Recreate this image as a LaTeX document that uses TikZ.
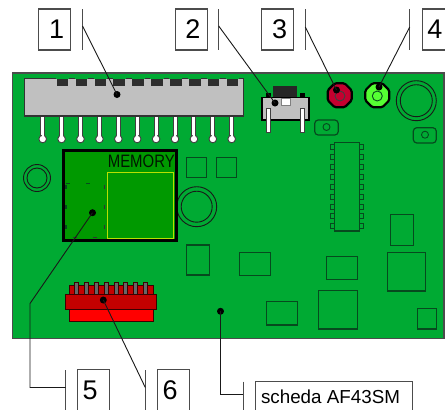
\documentclass[tikz,border=0pt]{standalone}
\usepackage{fontspec}
\usepackage{graphicx}
\usetikzlibrary{shapes.geometric}
\setmainfont{Liberation Sans}
\definecolor{board}{HTML}{00AA33}
\definecolor{memgreen}{HTML}{009900}
\definecolor{partline}{HTML}{064A1E}
\definecolor{grayp}{HTML}{C0C0C0}
\definecolor{ledred}{HTML}{C4002F}
\definecolor{ledgreen}{HTML}{55FF33}
\definecolor{redA}{HTML}{C40000}
\definecolor{redB}{HTML}{FF0000}
\definecolor{yel}{HTML}{B8E000}
\tikzset{
  part/.style={draw=partline,line width=1.2pt},
  thinpart/.style={draw=black!90,line width=.9pt},
  numbox/.style={draw=black!70,line width=1.1pt,fill=white,minimum width=32pt,minimum height=41pt,inner sep=0pt,font=\fontsize{27}{27}\selectfont},
  namebox/.style={draw=black!70,line width=1.1pt,fill=white,minimum width=156.6pt,minimum height=31pt,inner sep=0pt,font=\fontsize{18.8}{19}\selectfont},
  bar/.style={draw=black!70,line width=1.1pt},
  leader/.style={draw=black!90,line width=.9pt},
  dotn/.style={circle,fill=black,minimum size=7pt,inner sep=0pt},
  pinw/.style={fill=white,draw=black!75,line width=.9pt},
  ledshape/.style={regular polygon,regular polygon sides=8,draw=black,line width=2.2pt,minimum size=26pt,inner sep=0pt,rounded corners=1.5pt},
}
\begin{document}
\begin{tikzpicture}[x=1pt,y=-1pt]
\useasboundingbox (0,0) rectangle (445,410);
\clip (0,0) rectangle (445,410);
% board
\draw[fill=board,draw=black!70,line width=1.1pt] (12.7,73) rectangle (444,338.6);

% top connector
\foreach \i in {0,...,10}{
  \pgfmathsetmacro\px{42.7+18.9*\i}
  \draw[pinw] (\px-2,116) rectangle (\px+2,137);
  \draw[pinw] (\px,139) circle (3.8);
  \fill[white] (\px-1.2,130) rectangle (\px+1.2,139);
}
\draw[fill=grayp,draw=black!80,line width=1.1pt] (24.3,78.5) rectangle (243.3,116);
\foreach \i in {0,...,9}{
  \pgfmathsetmacro\tx{56.7+18.9*\i}
  \fill[board] (\tx-.8,74) rectangle (\tx+12.3,78.6);
  \fill[black!82] (\tx,78.6) rectangle (\tx+11.5,86.2);
  \fill[grayp] (\tx-1,78.6) -- (\tx,78.6) -- (\tx,84) -- (\tx-1,84) -- cycle;
}

% switch
\fill[black!85] (273.3,85.7) rectangle (297.3,97);
\fill[black] (266,93.3) rectangle (270.7,98);
\fill[black] (300,93.3) rectangle (305,98);
\draw[fill=grayp,draw=black,line width=1.8pt] (262,97.5) rectangle (309,120);
\draw[black!50,line width=.6pt,fill=white] (281,98.3) rectangle (290,105.7);
\draw[pinw] (266.3,108.3) rectangle (270.7,132.3);
\draw[pinw] (300.3,108.3) rectangle (304.7,132.3);

% LEDs
\node[ledshape,fill=ledred] (ledr) at (339.7,95.3) {};
\draw[draw=black!75,line width=.9pt] (340,96) circle (5);
\node[ledshape,fill=ledgreen] (ledg) at (377.3,95.3) {};
\draw[draw=partline,line width=.9pt] (377.3,96) circle (5);

% double circles
\draw[thinpart] (37,178) circle (13.5) (37,178) circle (10);
\draw[thinpart] (196.7,206.7) circle (20) (196.7,206.7) circle (15.5);
\draw[thinpart] (416.3,100.7) circle (20) (416.3,100.7) circle (16);

% pads
\draw[part,rounded corners=3.5pt] (314.7,120) rectangle (338.3,135);
\draw[part,line width=.9pt] (326.5,127) circle (3.5);
\draw[part,rounded corners=3.5pt] (413.3,127.7) rectangle (436.3,143);
\draw[part,line width=.9pt] (425,134.7) circle (3.5);

% IC
\draw[part] (334.7,142.7) rectangle (359.3,231);
\foreach \i in {0,...,8}{
  \pgfmathsetmacro\py{147+9.92*\i}
  \draw[part,line width=1pt] (330.7,\py-2.5) rectangle (334.7,\py+2.5);
  \draw[part,line width=1pt] (359.3,\py-2.5) rectangle (363.3,\py+2.5);
}

% small parts
\draw[part] (186.7,157.3) rectangle (206.7,177.3);
\draw[part] (216.7,157.3) rectangle (236.7,177.3);
\draw[part] (186.7,245) rectangle (209.3,275);
\draw[part] (239.3,252.3) rectangle (270.3,275.7);
\draw[part] (266.3,301.7) rectangle (297.3,325);
\draw[part] (318.3,290.3) rectangle (357.3,329);
\draw[part] (326.3,256.3) rectangle (357.3,279.3);
\draw[part] (390.3,214.7) rectangle (413.3,245.3);
\draw[part] (387.3,252.3) rectangle (425.7,291);
\draw[part] (417.3,308.7) rectangle (436.7,329);

% memory
\draw[fill=memgreen,draw=black,line width=3pt] (63.3,150.5) rectangle (176,240.5);
\draw[draw=yel,line width=1pt] (107.3,172.7) rectangle (173.3,238.5);
\node[inner sep=0pt,text=black!85!memgreen,font=\fontsize{18}{18}\selectfont] (mem) at (141.3,161.5) {\scalebox{0.83}[1]{MEMORY}};
\foreach \y in {186.7,206.7,226.7}{
  \fill[partline] (64.6,\y-2) rectangle (67.4,\y+2);
  \fill[black!80] (104.2,\y-2) rectangle (105.2,\y+2);
}
\fill[partline] (66,183.2) rectangle (70,184.2);
\fill[partline] (85.5,183.2) rectangle (90,184.2);
\fill[black!80] (73,236.8) rectangle (77,237.8);
\fill[black!80] (93,236.8) rectangle (97,237.8);

% red connector
\fill[redA] (69,285.7) rectangle (153.3,294);
\draw[black!70!redA,line width=.9pt] (69,294) -- (69,285.7) -- (153.3,285.7) -- (153.3,294);
\foreach \x in {76.7,86.7,96.7,106.7,116,125.7,135.7,145.7}{
  \draw[fill=black!60,draw=black!70!redA,line width=.6pt] (\x-2,282.3) rectangle (\x+2,294);
}
\draw[fill=redB,draw=black!70!redA,line width=.9pt] (69,309.3) rectangle (153.3,321.7);
\draw[fill=redA,draw=black!70!redA,line width=.9pt] (65.7,294) rectangle (156.7,309.3);

% labels
\node[numbox] (n1) at (54.7,29.5) {\hspace*{4pt}\raisebox{.8pt}{1}};
\node[numbox] (n2) at (191.3,29.5) {\hspace*{3pt}\raisebox{.8pt}{2}};
\node[numbox] (n3) at (277.6,29.5) {\hspace*{4pt}\raisebox{.5pt}{3}};
\node[numbox,minimum width=25.4pt] (n4) at (435,29.5) {\raisebox{.5pt}{4}};
\node[numbox] (n5) at (93.7,390) {5\hspace*{7pt}};
\node[numbox] (n6) at (173.7,390) {6\hspace*{7pt}};
\node[namebox] (n7) at (334,397) {scheda AF43SM\hspace*{7pt}};

% dots
\node[dotn] (d1) at (117,94.5) {};
\node[dotn] (d2) at (275,103) {};
\node[dotn] (d3) at (336.5,90) {};
\node[dotn] (d4) at (379,87) {};
\node[dotn] (d5) at (92.5,212.7) {};
\node[dotn] (d6) at (103.3,300) {};
\node[dotn] (d7) at (220.5,311.3) {};

% bars and leaders
\coordinate (b1) at (82.5,26);
\coordinate (b2) at (218.7,26);
\coordinate (b3) at (305.3,27);
\coordinate (b4) at (409.7,27);
\coordinate (b5) at (65.5,387.5);
\coordinate (b6) at (145.3,387.5);
\coordinate (b7) at (243.3,394);
\coordinate (k5) at (30,303.5);
\coordinate (k5b) at (30,387.5);
\coordinate (k7) at (220.5,394);
\draw[bar] (b1 |- 0,9) -- (b1 |- 0,50);
\draw[bar] (b2 |- 0,9) -- (b2 |- 0,50);
\draw[bar] (b3 |- 0,9) -- (b3 |- 0,50);
\draw[bar] (b4 |- 0,9) -- (b4 |- 0,50);
\draw[bar] (b5 |- 0,370.3) -- (b5 |- 0,410);
\draw[bar] (b6 |- 0,370.3) -- (b6 |- 0,410);
\draw[bar] (b7 |- 0,381.5) -- (b7 |- 0,410);
\draw[leader] (b1) -- (d1.center);
\draw[leader] (b2) -- (d2.center);
\draw[leader] (b3) -- (d3.center);
\draw[leader] (b4) -- (d4.center);
\draw[leader] (d5.center) -- (k5) -- (k5b) -- (b5);
\draw[leader] (d6.center) -- (b6);
\draw[leader] (d7.center) -- (k7) -- (b7);
\end{tikzpicture}
\end{document}
